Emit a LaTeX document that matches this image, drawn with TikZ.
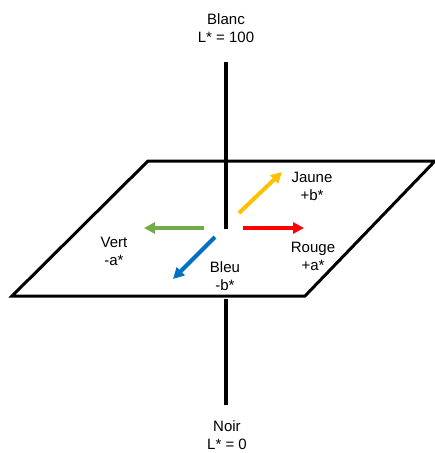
\documentclass[tikz,border=0pt]{standalone}
\usepackage{fontspec}
\setmainfont{Liberation Sans}
\usetikzlibrary{arrows.meta}
\definecolor{vertc}{RGB}{112,173,71}
\definecolor{rougec}{RGB}{255,0,0}
\definecolor{jaunec}{RGB}{255,192,0}
\definecolor{bleuc}{RGB}{0,112,192}

\begin{document}
\begin{tikzpicture}[x=1pt,y=-1pt,line width=3pt,>={Triangle[length=11pt,width=11pt]},
  lbl/.style={align=center,font=\fontsize{15}{18}\selectfont,inner sep=0pt},
  axe/.style={line width=4pt},
  fl/.style={line width=4pt,->}]
  \useasboundingbox (0,0) rectangle (435,453);
  % plan a*b*
  \coordinate (P1) at (148,161);
  \coordinate (P2) at (435,161);
  \coordinate (P3) at (305,296);
  \coordinate (P4) at (12,296);
  \draw[line join=miter] (P1) -- (P2) -- (P3) -- (P4) -- cycle;

  % axe L*
  \coordinate (Lh) at (226,62);
  \coordinate (Lm) at (226,229);
  \coordinate (Lb1) at (226,299);
  \coordinate (Lb2) at (226,405);
  \draw[axe] (Lh) -- (Lm);
  \draw[axe] (Lb1) -- (Lb2);

  % fleches
  \coordinate (O1) at (204,228);
  \coordinate (O2) at (243,228);
  \coordinate (O3) at (239,213);
  \coordinate (O4) at (215,237);
  \coordinate (vert) at (144,228);
  \coordinate (rouge) at (304,228);
  \coordinate (jaune) at (282,172);
  \coordinate (bleu) at (173,279);
  \draw[fl,vertc] (O1) -- (vert);
  \draw[fl,rougec] (O2) -- (rouge);
  \draw[fl,jaunec] (O3) -- (jaune);
  \draw[fl,bleuc] (O4) -- (bleu);

  \node[lbl] (blanc) at (226,28) {Blanc\\L* = 100};
  \node[lbl] (noir) at (227,435) {Noir\\L* = 0};
  \node[lbl] (tjaune) at (312,186) {Jaune\\+b*};
  \node[lbl] (trouge) at (313,256) {Rouge\\+a*};
  \node[lbl] (tvert) at (114,251) {Vert\\-a*};
  \node[lbl] (tbleu) at (225,276) {Bleu\\-b*};
\end{tikzpicture}
\end{document}
